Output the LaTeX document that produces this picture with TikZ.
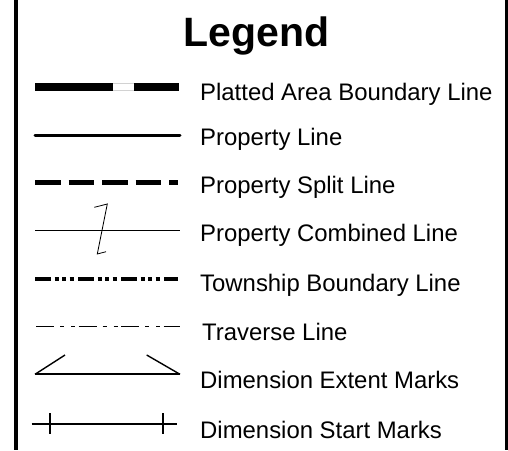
\documentclass[tikz,border=0pt]{standalone}
\usepackage{fontspec}
\setmainfont{Liberation Sans}
\tikzset{
    lbl/.style={anchor=base west,inner sep=0pt,font=\fontsize{23.9}{28}\selectfont},
}
\begin{document}
\begin{tikzpicture}[x=1pt,y=-1pt]
            \useasboundingbox (0,0) rectangle (508,450);
            \draw[line width=4pt] (16,0) -- (16,450);
            \draw[line width=3pt] (506.5,0) -- (506.5,450);
            \node (title) at (256.5,46.7) [anchor=base,inner sep=0pt,font=\bfseries\fontsize{41}{48}\selectfont] {Legend};
            % sample lines
            \draw[line width=8pt] (35,86.7) -- (113,86.7);
            \draw[line width=8pt] (134,86.7) -- (179,86.7);
            \draw[gray!35,line width=0.6pt] (113,83) -- (134,83);
            \draw[gray!35,line width=0.6pt] (113,90.4) -- (134,90.4);
            \draw[line width=3pt,line cap=round] (35,135) -- (180,135);
            \draw[line width=4.5pt,dash pattern=on 25.5pt off 8pt] (35,182.7) -- (178,182.7);
            \draw[line width=0.8pt] (35,230.3) -- (179.5,230.3);
            \draw[line width=0.8pt] (94.3,207.3) -- (107.3,204) -- (97.3,254) -- (106,251.7);
            \draw[line width=4pt,dash pattern=on 16pt off 3.5pt on 4pt off 3.5pt on 4pt off 3.5pt on 4pt off 4.5pt] (35,279.3) -- (178,279.3);
            \draw[line width=1pt,dash pattern=on 18pt off 6pt on 4pt off 7pt on 4pt off 3.5pt] (36,326.7) -- (180,326.7);
            \draw[line width=2pt] (35,374.3) -- (180,374.3);
            \draw[line width=1.4pt] (35,374.3) -- (65,355);
            \draw[line width=1.4pt] (146.7,355) -- (180,374.3);
            \draw[line width=2pt] (31.7,424) -- (176.7,424);
            \draw[line width=2.2pt] (50,413.3) -- (50,434);
            \draw[line width=2.2pt] (162.7,413.3) -- (162.7,434);
            % labels
            \node (platted) at (200,100) [lbl] {Platted Area Boundary Line};
            \node (property) at (200,145) [lbl] {Property Line};
            \node (split) at (200,193.3) [lbl] {Property Split Line};
            \node (combined) at (200,241.7) [lbl] {Property Combined Line};
            \node (township) at (200,291.7) [lbl] {Township Boundary Line};
            \node (traverse) at (202,340) [lbl] {Traverse Line};
            \node (extent) at (200,388.3) [lbl] {Dimension Extent Marks};
            \node (start) at (200,438.3) [lbl] {Dimension Start Marks};
        \end{tikzpicture}
\end{document}
